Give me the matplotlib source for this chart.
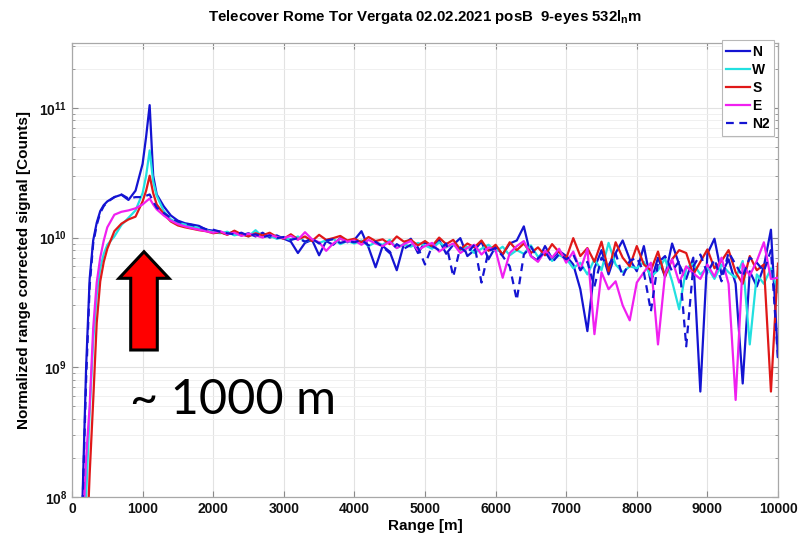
import math
import matplotlib
matplotlib.use("Agg")
import matplotlib.pyplot as plt
from matplotlib import ticker
from matplotlib.patches import FancyArrow

plt.rcParams["font.family"] = "Liberation Sans"
plt.rcParams["mathtext.fontset"] = "custom"
plt.rcParams["mathtext.rm"] = "Liberation Sans"
plt.rcParams["mathtext.bf"] = "Liberation Sans:bold"
plt.rcParams["mathtext.it"] = "Liberation Sans:italic"

# ---- range bins [m] ----
range_near = [150, 200, 250, 300, 350, 400, 450, 500, 600, 700, 800, 900,
              1000, 1050, 1100, 1150, 1200, 1300, 1400, 1500, 1600, 1700, 1800, 1900]
range_far = list(range(2000, 10001, 100))
range_m = range_near + range_far

# ---- normalized range corrected signal, units of 1e9 counts ----
N_near = [0.1, 1.0, 4.8, 9.5, 13.0, 16.0, 17.8, 19.0, 20.5, 21.4, 19.5, 23.0,
          37.0, 60.0, 105.0, 30.0, 21.5, 17.4, 14.8, 13.5, 12.9, 12.6, 12.3, 11.5]
N_far = [11.3, 11.0, 10.6, 11.2, 10.4, 10.8, 10.2, 10.9, 10.0, 10.4,
         9.8, 9.3, 7.6, 9.1, 9.6, 7.3, 9.4, 8.8, 9.9, 9.2,
         9.6, 11.2, 8.4, 5.9, 8.6, 7.8, 5.6, 8.9, 9.8, 7.6,
         9.2, 8.3, 9.6, 7.5, 8.8, 9.9, 7.2, 8.0, 9.3, 6.8,
         8.5, 7.4, 9.0, 9.5, 12.2, 7.2, 6.6, 8.6, 6.9, 7.9,
         7.2, 6.2, 4.0, 1.9, 5.8, 8.0, 5.2, 7.6, 9.5, 6.8,
         5.5, 8.6, 4.5, 7.0, 5.0, 9.0, 6.2, 4.8, 7.0, 0.65,
         7.5, 9.8, 5.2, 6.8, 4.4, 0.75, 5.5, 4.2, 6.0, 11.5,
         1.2]

W_near = [0.02, 0.1, 0.45, 1.6, 3.6, 5.8, 7.5, 8.8, 10.2, 12.5, 14.2, 16.2,
          22.0, 30.0, 47.0, 27.0, 21.0, 16.0, 13.8, 13.0, 12.6, 12.2, 11.8, 11.4]
W_far = [11.0, 10.8, 11.1, 10.4, 10.7, 10.2, 11.4, 10.1, 10.3, 9.8,
         10.0, 9.6, 10.2, 9.3, 9.7, 9.1, 9.5, 9.8, 8.9, 9.4,
         9.0, 9.5, 8.6, 9.2, 8.8, 9.6, 8.3, 8.9, 8.5, 9.1,
         8.7, 8.2, 9.2, 8.4, 8.9, 8.0, 8.5, 7.6, 8.2, 8.8,
         7.8, 8.5, 7.3, 8.0, 7.5, 8.7, 7.1, 7.8, 6.6, 7.3,
         6.9, 5.8, 6.4, 5.2, 6.8, 5.6, 9.1, 6.2, 5.4, 6.0,
         5.8, 6.5, 5.0, 5.6, 6.9, 4.6, 2.8, 5.8, 6.3, 5.2,
         5.9, 4.8, 6.2, 5.4, 4.9, 6.6, 1.5, 5.2, 4.4, 5.8,
         3.8]

S_near = [0.01, 0.03, 0.15, 0.55, 2.2, 4.6, 6.5, 8.2, 11.2, 12.8, 13.8, 14.5,
          19.0, 23.0, 30.0, 22.0, 18.0, 15.2, 13.3, 12.4, 12.0, 11.7, 11.4, 11.2]
S_far = [10.8, 11.0, 10.5, 11.3, 10.6, 10.2, 10.8, 10.4, 10.9, 10.1,
         9.8, 10.6, 9.7, 10.2, 9.4, 10.5, 9.6, 9.9, 10.3, 9.5,
         9.8, 9.2, 10.1, 9.4, 9.7, 8.9, 10.2, 9.3, 9.6, 8.7,
         9.4, 8.6, 10.0, 8.9, 9.6, 8.1, 9.0, 8.4, 9.5, 7.9,
         8.8, 7.4, 9.2, 8.0, 9.0, 7.6, 8.4, 7.3, 8.9, 7.7,
         6.9, 9.9, 7.2, 8.3, 6.5, 9.3, 5.5, 9.2, 7.0, 6.0,
         8.6, 6.2, 5.6, 7.8, 5.0, 6.8, 8.0, 7.6, 5.2, 6.5,
         8.1, 5.8, 6.6, 8.0, 5.4, 4.4, 7.2, 5.6, 6.2, 0.65,
         6.3]

E_near = [0.05, 0.2, 0.5, 2.0, 4.5, 7.0, 9.5, 12.0, 15.0, 15.8, 16.2, 16.8,
          18.0, 19.0, 20.0, 18.0, 16.5, 14.8, 13.5, 12.7, 12.2, 11.8, 11.5, 11.2]
E_far = [10.9, 11.2, 10.6, 10.9, 10.3, 10.7, 10.4, 10.0, 10.5, 10.1,
         9.9, 10.3, 9.6, 11.0, 9.7, 9.2, 7.9, 9.0, 9.8, 9.3,
         9.5, 8.8, 9.6, 9.0, 8.6, 9.3, 8.3, 8.9, 9.4, 8.0,
         8.6, 9.1, 7.8, 8.5, 9.0, 7.6, 8.3, 8.8, 7.4, 8.4,
         8.0, 4.9, 7.6, 8.6, 9.4, 7.2, 6.5, 7.9, 7.0, 8.2,
         6.4, 7.8, 5.6, 8.2, 1.8, 5.4, 4.0, 4.6, 3.0, 2.3,
         4.5, 5.4, 6.4, 1.5, 5.2, 6.8, 4.5, 6.0, 5.3, 4.8,
         6.2, 5.0, 7.0, 4.4, 0.56, 6.3, 5.1, 6.6, 9.2, 4.8,
         4.9]

N2_near = [0.09, 0.8, 4.2, 9.0, 12.5, 15.5, 17.5, 18.8, 20.5, 21.5, 20.0, 20.5,
           20.5, 21.0, 21.5, 19.0, 17.0, 15.5, 14.2, 13.3, 12.8, 12.5, 12.1, 11.6]
N2_far = [11.5, 11.1, 10.8, 10.6, 10.9, 10.3, 10.6, 10.1, 10.4, 9.9,
          10.1, 9.6, 9.9, 9.3, 9.8, 9.0, 9.5, 9.7, 9.1, 9.4,
          9.2, 9.6, 8.7, 9.3, 8.5, 7.6, 8.9, 8.2, 8.8, 8.4,
          6.2, 8.6, 8.0, 9.0, 5.0, 8.4, 7.6, 8.8, 4.5, 7.9,
          8.3, 7.2, 6.0, 3.3, 7.4, 8.5, 6.9, 7.8, 6.4, 7.5,
          6.8, 7.4, 5.6, 6.5, 4.2, 7.0, 6.1, 7.6, 5.0, 6.6,
          7.0, 5.4, 2.7, 6.4, 7.2, 5.5, 6.6, 1.45, 6.0, 7.4,
          5.3, 6.8, 4.6, 7.7, 6.2, 5.0, 7.0, 6.4, 5.5, 8.0,
          1.15]

series_names = ["N", "W", "S", "E", "N2"]
series_values = [N_near + N_far, W_near + W_far, S_near + S_far,
                 E_near + E_far, N2_near + N2_far]
series_colors = ["#1414d2", "#22e0e0", "#e01818", "#f020f0", "#1414d2"]
series_styles = ["-", "-", "-", "-", "--"]

x_ticks = list(range(0, 10001, 1000))
y_ticks = [1e8, 1e9, 1e10, 1e11]
SCALE = 1e9

fig = plt.figure(figsize=(8.03, 5.42), dpi=100)
ax = fig.add_axes([72 / 803, 45 / 542, 706 / 803, 454 / 542])

for name, vals, col, ls in zip(series_names, series_values, series_colors, series_styles):
    y = [v * SCALE for v in vals]
    if ls == "--":
        ax.plot(range_m, y, color=col, lw=1.6, ls=ls, dashes=(3.5, 2.5), label=name)
    else:
        ax.plot(range_m, y, color=col, lw=1.6, ls=ls, label=name)

ax.set_yscale("log")
ax.set_xlim(0, 10000)
ax.set_ylim(1e8, 10 ** 11.5)
ax.set_xticks(x_ticks)
ax.set_yticks(y_ticks)
ax.yaxis.set_major_formatter(ticker.FuncFormatter(
    lambda v, p: r"$\mathbf{10^{%d}}$" % round(math.log10(v))))
ax.yaxis.set_minor_locator(ticker.LogLocator(base=10, subs=range(2, 10)))
ax.yaxis.set_minor_formatter(ticker.NullFormatter())

ax.grid(True, which="major", color="#e2e2e2", lw=0.8)
ax.grid(True, which="minor", axis="y", color="#eeeeee", lw=0.6)
ax.set_axisbelow(True)

ax.tick_params(which="both", direction="in", top=True, right=True,
               color="#8a8a8a", labelsize=10, labelcolor="#111111")
ax.tick_params(which="major", length=4)
ax.tick_params(which="minor", length=2.5)
for lab in ax.get_xticklabels():
    lab.set_fontweight("bold")
for sp in ax.spines.values():
    sp.set_color("#a8a8a8")
    sp.set_linewidth(0.9)

ax.set_xlabel("Range [m]", fontsize=11, fontweight="bold", labelpad=2)
ax.set_ylabel("Normalized range corrected signal [Counts]", fontsize=11,
              fontweight="bold", labelpad=6)
ax.set_title(r"Telecover Rome Tor Vergata 02.02.2021 posB  9-eyes 532$\mathbf{l_n}$m",
             fontsize=10.8, fontweight="bold", pad=16)

leg = ax.legend(loc="upper right", bbox_to_anchor=(0.995, 1.006), borderaxespad=0,
                fancybox=False, framealpha=1, edgecolor="#b8b8b8",
                prop={"weight": "bold", "size": 10}, handlelength=1.7,
                handletextpad=0.15, labelspacing=0.28, borderpad=0.35)
leg.get_frame().set_linewidth(0.8)

# block arrow pointing at the near-field peak
arrow = FancyArrow(144 / 803, 1 - 350 / 542, 0, (350 - 251.7) / 542,
                   width=26.6 / 803, head_width=50 / 803, head_length=26.6 / 542,
                   length_includes_head=True, transform=fig.transFigure,
                   facecolor="#ff0000", edgecolor="black", lw=2.2, zorder=10)
fig.add_artist(arrow)
fig.text(233 / 803, 1 - 400 / 542, "~ 1000 m", fontsize=35, family="Lato",
         ha="center", va="center", color="black")

fig.savefig("out.png", dpi=100)
